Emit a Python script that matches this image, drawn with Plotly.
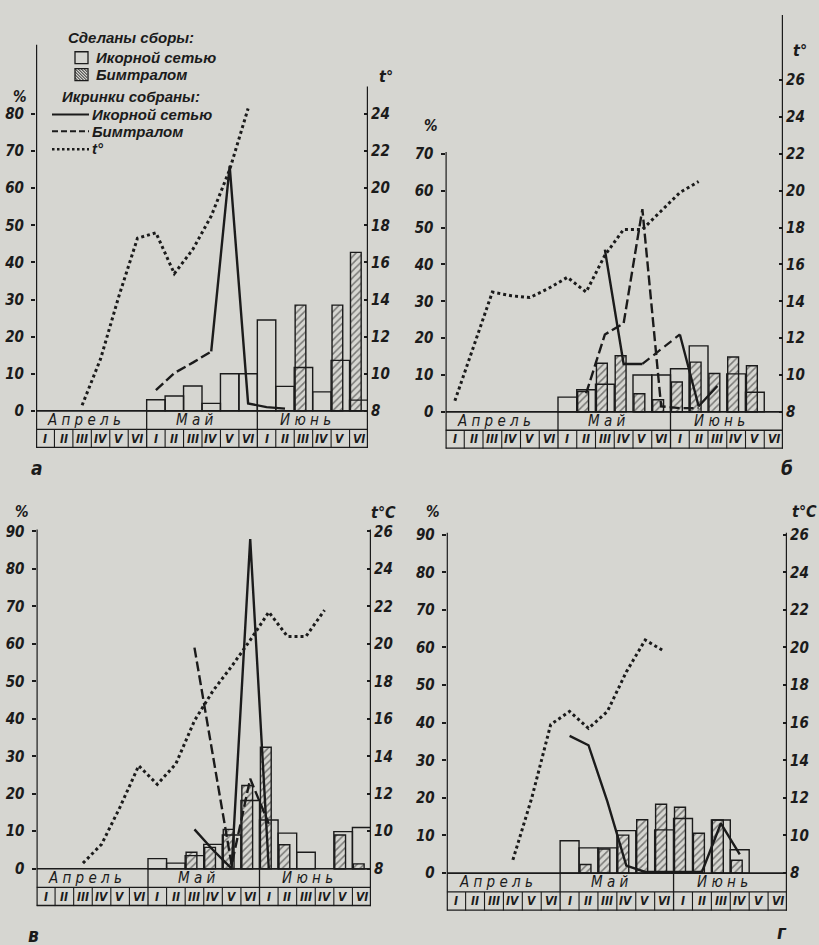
import numpy as np
import plotly.graph_objects as go

PAPER = "#d6d6d1"
INK = "#1b1b1b"
W, H = 819, 945
FONT = "Liberation Sans Narrow, DejaVu Sans Condensed, Liberation Sans, sans-serif"
KEY_FONT = "Liberation Sans, DejaVu Sans, sans-serif"

N = None
month_labels = ["А п р е л ь", "М а й", "И ю н ь"]
decades = ["I", "II", "III", "IV", "V", "VI"] * 3

# ---- а ----
net_bars_a = [N, N, N, N, N, N, 3, 4, 6.7, 2, 10, 10, 24.5, 6.6, 11.7, 5.1, 13.6, 2.9]
trawl_bars_a = [N, N, N, N, N, N, N, N, N, N, N, N, N, N, 28.5, N, 28.5, 42.7]
net_eggs_a = [N, N, N, N, N, N, N, N, N, 16, 66, 2, 1, 0.6, N, N, N, N]
trawl_eggs_a = [N, N, N, N, N, N, 5.6, 10.2, 13, 16, N, N, N, N, N, N, N, N]
temp_a = [N, N, 8.3, 10.8, 14.2, 17.3, 17.6, 15.4, 16.7, 18.5, 21.0, 24.3, N, N, N, N, N, N]

# ---- б ----
net_bars_b = [N, N, N, N, N, N, 4, 6, 7.5, N, 10, 10, 11.7, 17.9, N, 10.3, 5.3, N]
trawl_bars_b = [N, N, N, N, N, N, N, 5.5, 13.2, 15.2, 4.9, 3.3, 8.1, 13.5, 10.4, 14.9, 12.5, N]
net_eggs_b = [N, N, N, N, N, N, N, N, 44, 13, 13, N, 21, 1.5, 7, N, N, N]
trawl_eggs_b = [N, N, N, N, N, N, N, 5, 21, 24, 55, 1.5, 1, 1, N, N, N, N]
temp_b = [8.6, 11.5, 14.5, 14.3, 14.2, 14.7, 15.3, 14.5, 16.5, 17.9, 17.9, 18.9, 19.9, 20.5, N, N, N, N]

# ---- в ----
net_bars_c = [N, N, N, N, N, N, 2.7, 1.5, 3.5, 6.5, 9, 18.2, 13, 9.5, 4.4, N, 9.9, 11]
trawl_bars_c = [N, N, N, N, N, N, N, N, 4.4, 5.7, 10.5, 22.2, 32.4, 6.4, N, N, 9, 1.3]
net_eggs_c = [N, N, N, N, N, N, N, N, 10.5, 5, 0, 88, 0, N, N, N, N, N]
trawl_eggs_c = [N, N, N, N, N, N, N, N, 59, 30, 1, 24, 12, N, N, N, N, N]
temp_c = [N, N, 8.3, 9.3, 11.3, 13.5, 12.5, 13.6, 15.9, 17.5, 18.8, 20.2, 21.7, 20.4, 20.4, 21.8, N, N]

# ---- г ----
net_bars_d = [N, N, N, N, N, N, 8.6, 6.7, 6.7, 11.3, N, 11.5, 14.5, N, 14.1, 6.2, N, N]
trawl_bars_d = [N, N, N, N, N, N, N, 2.3, 6.4, 10.1, 14.2, 18.3, 17.5, 10.6, 14.1, 3.4, N, N]
net_eggs_d = [N, N, N, N, N, N, 36.5, 34, 19, 2, 0.3, 0.3, 0.3, 0.3, 13.2, 5, N, N]
trawl_eggs_d = [N] * 18
temp_d = [N, N, N, 8.7, 12.0, 15.9, 16.6, 15.7, 16.6, 18.7, 20.4, 19.8, N, N, N, N, N, N]

panels = [
    dict(letter="а", tlabel="t°", left=36, right=368, base=408, px10=37.3, top=38,
         lline=98.7, rline=87.4, pmax=80, tmax=24,
         net_bars=net_bars_a, trawl_bars=trawl_bars_a, net=net_eggs_a, trawl=trawl_eggs_a, temp=temp_a,
         pct_pos=(20, 92), t_pos=(386, 72), letter_pos=(37, 465), bridge=False),
    dict(letter="б", tlabel="t°", left=445.5, right=783, base=409, px10=37.05, top=8,
         lline=70.5, rline=107.7, pmax=70, tmax=26,
         net_bars=net_bars_b, trawl_bars=trawl_bars_b, net=net_eggs_b, trawl=trawl_eggs_b, temp=temp_b,
         pct_pos=(431, 122), t_pos=(800, 46), letter_pos=(787, 465), bridge=True),
    dict(letter="в", tlabel="t°C", left=36.5, right=371, base=868.3, px10=37.67, top=525,
         lline=90.5, rline=90.5, pmax=90, tmax=26,
         net_bars=net_bars_c, trawl_bars=trawl_bars_c, net=net_eggs_c, trawl=trawl_eggs_c, temp=temp_c,
         pct_pos=(22, 510), t_pos=(383, 510), letter_pos=(33, 935), bridge=False),
    dict(letter="г", tlabel="t°C", left=446.7, right=787, base=872.7, px10=37.8, top=529,
         lline=90.5, rline=90.5, pmax=90, tmax=26,
         net_bars=net_bars_d, trawl_bars=trawl_bars_d, net=net_eggs_d, trawl=trawl_eggs_d, temp=temp_d,
         pct_pos=(433, 510), t_pos=(804, 509), letter_pos=(782, 932), bridge=False),
]

fig = go.Figure()
shapes = []
annotations = []


def px_x(v):
    return v / W


def px_y(v):
    return 1 - v / H


def ital(size, weight="bold", family=FONT):
    return dict(family=family, size=size, color=INK, style="italic", weight=weight)


pos = np.arange(18)
centers = pos + 0.5

for i, p in enumerate(panels):
    xa = "x" if i == 0 else f"x{i + 1}"
    ya_n, yt_n = 2 * i + 1, 2 * i + 2
    ya = "y" if ya_n == 1 else f"y{ya_n}"
    yt = f"y{yt_n}"
    xkey = "xaxis" if i == 0 else f"xaxis{i + 1}"
    ykey = "yaxis" if ya_n == 1 else f"yaxis{ya_n}"
    tkey = f"yaxis{yt_n}"

    bottom = p["base"] + p["px10"]
    r0 = -10
    r1 = (p["base"] - p["top"]) / p["px10"] * 10
    dom_y = [px_y(bottom), px_y(p["top"])]

    fig.update_layout(**{
        xkey: dict(domain=[px_x(p["left"]), px_x(p["right"])], range=[0, 18], anchor=ya,
                   visible=False, fixedrange=True),
        ykey: dict(domain=dom_y, range=[r0, r1], anchor=xa, showgrid=False, zeroline=False,
                   showline=False, tickvals=list(range(0, p["pmax"] + 1, 10)),
                   ticks="outside", ticklen=4, tickwidth=1.5, tickcolor=INK,
                   tickfont=ital(15), ticklabelstandoff=4),
        tkey: dict(overlaying=ya, side="right", anchor=xa, range=[8 + r0 / 5, 8 + r1 / 5],
                   showgrid=False, zeroline=False, showline=False,
                   tickvals=list(range(8, p["tmax"] + 1, 2)),
                   ticks="inside", ticklen=4, tickwidth=1.5, tickcolor=INK,
                   tickfont=ital(15), ticklabelstandoff=2),
    })

    # beam-trawl collections (hatched)
    fig.add_trace(go.Bar(
        x=pos, y=p["trawl_bars"], offset=0.05, width=0.58, xaxis=xa, yaxis=ya,
        marker=dict(color=PAPER, line=dict(color=INK, width=1.4),
                    pattern=dict(shape="/", fgcolor=INK, bgcolor=PAPER, size=5, solidity=0.3)),
        showlegend=False, hoverinfo="skip"))
    # egg-net collections (open)
    fig.add_trace(go.Bar(
        x=pos, y=p["net_bars"], offset=0, width=1, xaxis=xa, yaxis=ya,
        marker=dict(color="rgba(0,0,0,0)", line=dict(color=INK, width=1.4)),
        showlegend=False, hoverinfo="skip"))

    # eggs caught by egg net
    fig.add_trace(go.Scatter(
        x=centers, y=p["net"], mode="lines", xaxis=xa, yaxis=ya, connectgaps=False,
        line=dict(color=INK, width=2.4), showlegend=False, hoverinfo="skip"))
    if p["bridge"]:
        vals = p["net"]
        for k in range(1, 17):
            if vals[k] is None and vals[k - 1] is not None and vals[k + 1] is not None:
                fig.add_trace(go.Scatter(
                    x=[centers[k - 1], centers[k + 1]], y=[vals[k - 1], vals[k + 1]], mode="lines",
                    xaxis=xa, yaxis=ya, line=dict(color=INK, width=2.2, dash="9px,5px"),
                    showlegend=False, hoverinfo="skip"))
    # eggs caught by beam trawl
    fig.add_trace(go.Scatter(
        x=centers, y=p["trawl"], mode="lines", xaxis=xa, yaxis=ya, connectgaps=False,
        line=dict(color=INK, width=2.4, dash="10px,4px"), showlegend=False, hoverinfo="skip"))
    # water temperature
    fig.add_trace(go.Scatter(
        x=centers, y=p["temp"], mode="lines", xaxis=xa, yaxis=yt, connectgaps=False,
        line=dict(color=INK, width=3, dash="3px,3px"), showlegend=False, hoverinfo="skip"))

    # axis lines and the month/decade table below the baseline
    def seg(x0, y0, x1, y1, w):
        shapes.append(dict(type="line", xref=xa, yref=ya, x0=x0, y0=y0, x1=x1, y1=y1,
                           line=dict(color=INK, width=w), layer="above"))

    seg(0, -10, 0, p["lline"], 2.4)
    seg(18, -10, 18, p["rline"], 2.4)
    seg(0, 0, 18, 0, 1.6)
    seg(0, -5, 18, -5, 1.3)
    seg(0, -10, 18, -10, 2.6)
    for k in (6, 12):
        seg(k, -10, k, 0, 1.3)
    for k in range(1, 18):
        if k not in (6, 12):
            seg(k, -10, k, -5, 1.1)

    for m, lab in enumerate(month_labels):
        annotations.append(dict(x=6 * m + 2.6, y=-2.5, xref=xa, yref=ya, text=lab, showarrow=False,
                                font=ital(15, "normal"), xanchor="center", yanchor="middle"))
    for k, lab in enumerate(decades):
        annotations.append(dict(x=k + 0.5, y=-7.5, xref=xa, yref=ya, text=lab, showarrow=False,
                                font=ital(12), xanchor="center", yanchor="middle"))

    # axis titles and panel letter
    for (ax_, ay_), txt, sz in ((p["pct_pos"], "%", 15), (p["t_pos"], p["tlabel"], 16),
                               (p["letter_pos"], p["letter"], 19)):
        annotations.append(dict(x=px_x(ax_), y=px_y(ay_), xref="paper", yref="paper", text=txt,
                                showarrow=False, font=ital(sz), xanchor="center", yanchor="middle"))


# ---- key (drawn in panel а) ----
def ptext(x, y, text, size=15):
    annotations.append(dict(x=px_x(x), y=px_y(y), xref="paper", yref="paper", text=text,
                            showarrow=False, xanchor="left", yanchor="middle",
                            font=ital(size, "bold", KEY_FONT)))


def pline(x0, y0, x1, y1, w=1.5, dash="solid"):
    shapes.append(dict(type="line", xref="paper", yref="paper", x0=px_x(x0), y0=px_y(y0),
                       x1=px_x(x1), y1=px_y(y1), line=dict(color=INK, width=w, dash=dash)))


def pbox(x0, y0, x1, y1):
    shapes.append(dict(type="rect", xref="paper", yref="paper", x0=px_x(x0), x1=px_x(x1),
                       y0=px_y(y1), y1=px_y(y0), line=dict(color=INK, width=1.3)))


ptext(66, 33, "Сделаны сборы:")
pbox(75, 47, 88, 59)
ptext(94, 53, "Икорной сетью")
pbox(75, 64, 88, 76)
# 45-degree hatch strokes inside the key box
bx0, by0, bsz = 75, 64, 12
for d in (3, 6, 9, 12, 15, 18, 21):
    sx, sy = (bx0, by0 + bsz - d) if d <= bsz else (bx0 + d - bsz, by0)
    ex, ey = (bx0 + d, by0 + bsz) if d <= bsz else (bx0 + bsz, by0 + 2 * bsz - d)
    pline(ex, ey, sx, sy, 1)
ptext(94, 70, "Бимтралом")

ptext(60, 92, "Икринки собраны:")
pline(52, 110, 89, 110, 2)
ptext(90, 110, "Икорной сетью")
pline(52, 127, 89, 127, 2, "6px,3px")
ptext(90, 127, "Бимтралом")
pline(52, 145, 89, 145, 2.6, "2.5px,2.5px")
ptext(90, 144, "t°", 15)

fig.update_layout(
    width=W, height=H, margin=dict(l=0, r=0, t=0, b=0),
    paper_bgcolor=PAPER, plot_bgcolor="rgba(0,0,0,0)",
    barmode="overlay", showlegend=False,
    shapes=shapes, annotations=annotations,
)

fig.write_html("out.html")
